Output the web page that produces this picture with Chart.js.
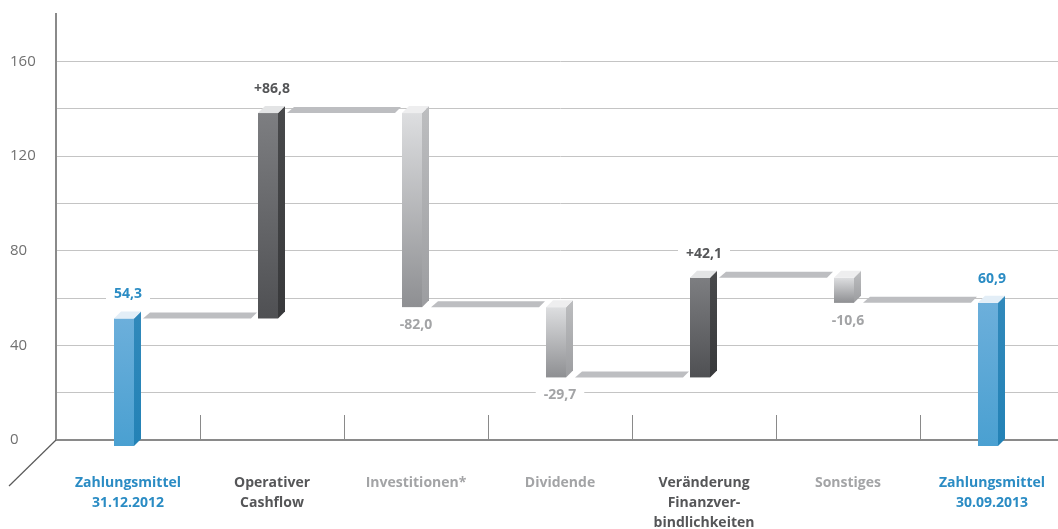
<!DOCTYPE html>
<html>
<head>
<meta charset="utf-8">
<script src="https://cdn.jsdelivr.net/npm/chart.js@4.4.1/dist/chart.umd.min.js"></script>
<style>
  html, body { margin: 0; padding: 0; background: #fff; overflow: hidden; }
  canvas { display: block; }
</style>
</head>
<body>
<canvas id="chart" width="1064" height="529"></canvas>
<script>
// categories (multi-line labels)
const categories = [
    ['Zahlungsmittel', '31.12.2012'],
    ['Operativer', 'Cashflow'],
    ['Investitionen*'],
    ['Dividende'],
    ['Veränderung', 'Finanzver-', 'bindlichkeiten'],
    ['Sonstiges'],
    ['Zahlungsmittel', '30.09.2013']
];
const changes = [54.3, 86.8, -82.0, -29.7, 42.1, -10.6, 60.9];
const kinds = ['total', 'plus', 'minus', 'minus', 'plus', 'minus', 'total'];
const valueLabels = ['54,3', '+86,8', '-82,0', '-29,7', '+42,1', '-10,6', '60,9'];
const yTickLabels = [0, 40, 80, 120, 160];

const FONT = '"Open Sans", "DejaVu Sans", sans-serif';
const labelColors = { total: '#2b8cc4', plus: '#555658', minus: '#a3a4a6' };
const faceColors = {
    total: { front: ['#6cafdb', '#4aa0d1'], side: ['#3189bb', '#2382b6'], top: '#e3eef7' },
    plus:  { front: ['#7d7e81', '#4f5053'], side: ['#48494b', '#38393b'], top: '#e3e4e5' },
    minus: { front: ['#dddee0', '#8e8f92'], side: ['#bdbec0', '#9c9da0'], top: '#eeeeef' }
};

// waterfall ranges from the changes
const ranges = [];
let running = 0;
changes.forEach((v, i) => {
    if (kinds[i] === 'total') {
        ranges.push([0, v]);
        running = v;
    } else {
        ranges.push([running, running + v]);
        running = running + v;
    }
});

const DX = 7, DY = 7;

function poly(ctx, pts, fill) {
    ctx.beginPath();
    ctx.moveTo(pts[0][0], pts[0][1]);
    for (let i = 1; i < pts.length; i++) ctx.lineTo(pts[i][0], pts[i][1]);
    ctx.closePath();
    ctx.fillStyle = fill;
    ctx.fill();
}

const decoPlugin = {
    id: 'deco',
    beforeDatasetsDraw(chart) {
        const ctx = chart.ctx;
        const x = chart.scales.x, y = chart.scales.y;
        const y0 = y.getPixelForValue(0);
        ctx.save();
        // category separators
        ctx.strokeStyle = '#8a8a8a';
        ctx.lineWidth = 1;
        for (let i = 0; i < categories.length - 1; i++) {
            const bx = Math.round((x.getPixelForValue(i) + x.getPixelForValue(i + 1)) / 2) + 0.5;
            ctx.beginPath();
            ctx.moveTo(bx, y0 - 25);
            ctx.lineTo(bx, y0);
            ctx.stroke();
        }
        // perspective floor line
        ctx.strokeStyle = '#5a5a5a';
        ctx.lineWidth = 1.2;
        ctx.beginPath();
        ctx.moveTo(chart.chartArea.left, y0);
        ctx.lineTo(9, y0 + 46);
        ctx.stroke();
        ctx.restore();
    },
    afterDatasetsDraw(chart) {
        const ctx = chart.ctx;
        const y = chart.scales.y;
        const meta = chart.getDatasetMeta(0);
        ctx.save();
        // connectors
        for (let i = 0; i < meta.data.length - 1; i++) {
            const c = meta.data[i].x, n = meta.data[i + 1].x;
            const ly = y.getPixelForValue(ranges[i][1]);
            poly(ctx, [[c + 15, ly + 7], [c + 22, ly + 1], [n - 15, ly + 1], [n - 21, ly + 7]], '#bdbec1');
        }
        // 3d bars
        meta.data.forEach((el, i) => {
            const c = el.x;
            const top = Math.min(el.y, el.base), bot = Math.max(el.y, el.base);
            const col = faceColors[kinds[i]];
            const fl = c - 14, fr = c + 6;
            let g = ctx.createLinearGradient(0, top + DY, 0, bot + DY);
            g.addColorStop(0, col.front[0]);
            g.addColorStop(1, col.front[1]);
            ctx.fillStyle = g;
            ctx.fillRect(fl, top + DY, fr - fl, bot - top);
            g = ctx.createLinearGradient(0, top, 0, bot + DY);
            g.addColorStop(0, col.side[0]);
            g.addColorStop(1, col.side[1]);
            poly(ctx, [[fr, top + DY], [fr + DX, top], [fr + DX, bot], [fr, bot + DY]], g);
            poly(ctx, [[fl, top + DY], [fr, top + DY], [fr + DX, top], [fl + DX, top]], col.top);
        });
        // value labels
        ctx.font = 'bold 14px ' + FONT;
        ctx.textAlign = 'center';
        ctx.textBaseline = 'middle';
        meta.data.forEach((el, i) => {
            const top = Math.min(el.y, el.base), bot = Math.max(el.y, el.base);
            const ly = kinds[i] === 'minus' ? bot + 25 : top - 17;
            const w = ctx.measureText(valueLabels[i]).width + 16;
            ctx.fillStyle = '#fff';
            ctx.fillRect(el.x - w / 2, ly - 10, w, 20);
            ctx.fillStyle = labelColors[kinds[i]];
            ctx.fillText(valueLabels[i], el.x, ly);
        });
        ctx.restore();
    }
};

new Chart(document.getElementById('chart'), {
    type: 'bar',
    data: {
        labels: categories,
        datasets: [{
            data: ranges,
            backgroundColor: 'rgba(0,0,0,0)',
            barThickness: 20
        }]
    },
    options: {
        responsive: false,
        animation: false,
        layout: { padding: { left: 10, top: 14, right: 0, bottom: 0 } },
        plugins: { legend: { display: false }, tooltip: { enabled: false } },
        scales: {
            x: {
                grid: { display: false },
                border: { display: false },
                ticks: {
                    autoSkip: false,
                    maxRotation: 0,
                    padding: 25,
                    font: { family: FONT, size: 14, weight: 'bold', lineHeight: '20px' },
                    color: (c) => labelColors[kinds[c.index]]
                },
                afterFit: (s) => { s.height = 89; s.paddingLeft = 0; s.paddingRight = 0; }
            },
            y: {
                min: 0,
                max: 180,
                ticks: {
                    stepSize: 20,
                    crossAlign: 'far',
                    padding: 0,
                    color: '#707070',
                    font: { family: FONT, size: 15 },
                    callback: (v) => yTickLabels.includes(v) ? String(v) : ''
                },
                grid: {
                    drawTicks: false,
                    color: (c) => c.tick.value === 0 ? '#8a8a8a' : (c.tick.value === 180 ? 'rgba(0,0,0,0)' : '#c4c4c4'),
                    lineWidth: (c) => c.tick.value === 0 ? 2 : 1
                },
                border: { color: '#8a8a8a', width: 2 },
                afterFit: (s) => { s.width = 46; }
            }
        }
    },
    plugins: [decoPlugin]
});
</script>
</body>
</html>
